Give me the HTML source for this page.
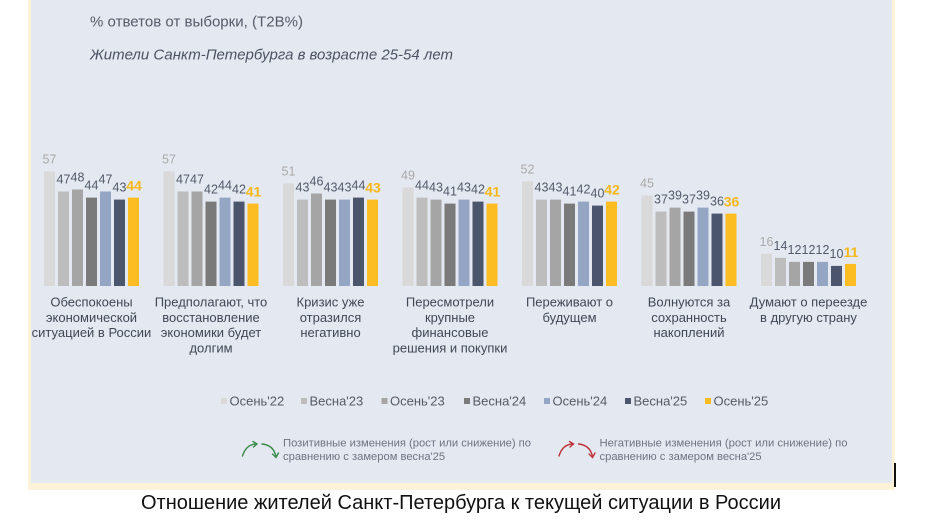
<!DOCTYPE html>
<html><head><meta charset="utf-8"><style>
html,body{margin:0;padding:0;background:#fff;}
svg{display:block;font-family:"Liberation Sans",Arial,sans-serif;}
</style></head><body>
<svg width="930" height="525" viewBox="0 0 930 525" xmlns="http://www.w3.org/2000/svg">
<rect x="0" y="0" width="930" height="525" fill="#ffffff"/>
<rect x="28" y="0" width="867" height="490" fill="#fcf2d8"/>
<rect x="31" y="0" width="861" height="483" fill="#e4e8f0"/>
<rect x="894" y="463" width="2" height="24" fill="#111"/>

<text x="90" y="26.5" font-size="15" fill="#555b68" textLength="213" lengthAdjust="spacingAndGlyphs">% ответов от выборки, (T2B%)</text>
<text x="90" y="59.5" font-size="14.5" font-style="italic" fill="#4b5262" textLength="363" lengthAdjust="spacingAndGlyphs">Жители Санкт-Петербурга в возрасте 25-54 лет</text>

<g font-size="13" fill="#404755" text-anchor="middle">
<text x="91.5" y="306.5"><tspan x="91.5">Обеспокоены</tspan><tspan x="91.5" dy="15.3">экономической</tspan><tspan x="91.5" dy="15.3">ситуацией в России</tspan></text>
<text x="211" y="306.5"><tspan x="211">Предполагают, что</tspan><tspan x="211" dy="15.3">восстановление</tspan><tspan x="211" dy="15.3">экономики будет</tspan><tspan x="211" dy="15.3">долгим</tspan></text>
<text x="330.5" y="306.5"><tspan x="330.5">Кризис уже</tspan><tspan x="330.5" dy="15.3">отразился</tspan><tspan x="330.5" dy="15.3">негативно</tspan></text>
<text x="450" y="306.5"><tspan x="450">Пересмотрели</tspan><tspan x="450" dy="15.3">крупные</tspan><tspan x="450" dy="15.3">финансовые</tspan><tspan x="450" dy="15.3">решения и покупки</tspan></text>
<text x="569.5" y="306.5"><tspan x="569.5">Переживают о</tspan><tspan x="569.5" dy="15.3">будущем</tspan></text>
<text x="689" y="306.5"><tspan x="689">Волнуются за</tspan><tspan x="689" dy="15.3">сохранность</tspan><tspan x="689" dy="15.3">накоплений</tspan></text>
<text x="808.5" y="306.5"><tspan x="808.5">Думают о переезде</tspan><tspan x="808.5" dy="15.3">в другую страну</tspan></text>
</g>

<g font-size="13" fill="#555b66">
<rect x="221" y="398" width="6" height="6" fill="#d9d9d9"/><text x="229.5" y="405.5">Осень'22</text>
<rect x="301" y="398" width="6" height="6" fill="#bdbdbd"/><text x="309.5" y="405.5">Весна'23</text>
<rect x="381.5" y="398" width="6" height="6" fill="#a5a5a5"/><text x="390" y="405.5">Осень'23</text>
<rect x="464" y="398" width="6" height="6" fill="#7a7a7a"/><text x="472.5" y="405.5">Весна'24</text>
<rect x="544" y="398" width="6" height="6" fill="#94a6c4"/><text x="552.5" y="405.5">Осень'24</text>
<rect x="625" y="398" width="6" height="6" fill="#4b556c"/><text x="633.5" y="405.5">Весна'25</text>
<rect x="705" y="398" width="6" height="6" fill="#fbbd21"/><text x="713.5" y="405.5">Осень'25</text>
</g>

<g fill="none" stroke="#3a8a4a" stroke-width="1.4" stroke-linecap="round">
<path d="M242.5,456 Q246,444.5 256,444"/>
<path d="M253,441.5 L257,444 L253.5,447"/>
<path d="M262,444 Q273.5,445 276,456.5"/>
<path d="M272.5,454 L276,457.5 L278.5,453"/>
</g>
<g fill="none" stroke="#c0323a" stroke-width="1.4" stroke-linecap="round" transform="translate(316.5,0)">
<path d="M242.5,456 Q246,444.5 256,444"/>
<path d="M253,441.5 L257,444 L253.5,447"/>
<path d="M262,444 Q273.5,445 276,456.5"/>
<path d="M272.5,454 L276,457.5 L278.5,453"/>
</g>
<g font-size="11.2" fill="#6e7382">
<text x="283" y="446.5" textLength="248" lengthAdjust="spacingAndGlyphs">Позитивные изменения (рост или снижение) по</text>
<text x="283" y="460">сравнению с замером весна'25</text>
<text x="599.5" y="446.5" textLength="248" lengthAdjust="spacingAndGlyphs">Негативные изменения (рост или снижение) по</text>
<text x="599.5" y="460">сравнению с замером весна'25</text>
</g>

<text x="141" y="509" font-size="20" fill="#111" textLength="640" lengthAdjust="spacingAndGlyphs">Отношение жителей Санкт-Петербурга к текущей ситуации в России</text>

<g>
<rect x="44" y="171.4" width="11" height="114.6" fill="#d9d9d9"/>
<rect x="58" y="191.5" width="11" height="94.5" fill="#bdbdbd"/>
<rect x="72" y="189.5" width="11" height="96.5" fill="#a5a5a5"/>
<rect x="86" y="197.6" width="11" height="88.4" fill="#7a7a7a"/>
<rect x="100" y="191.5" width="11" height="94.5" fill="#94a6c4"/>
<rect x="114" y="199.6" width="11" height="86.4" fill="#4b556c"/>
<rect x="128" y="197.6" width="11" height="88.4" fill="#fbbd21"/>
<rect x="163.5" y="171.4" width="11" height="114.6" fill="#d9d9d9"/>
<rect x="177.5" y="191.5" width="11" height="94.5" fill="#bdbdbd"/>
<rect x="191.5" y="191.5" width="11" height="94.5" fill="#a5a5a5"/>
<rect x="205.5" y="201.6" width="11" height="84.4" fill="#7a7a7a"/>
<rect x="219.5" y="197.6" width="11" height="88.4" fill="#94a6c4"/>
<rect x="233.5" y="201.6" width="11" height="84.4" fill="#4b556c"/>
<rect x="247.5" y="203.6" width="11" height="82.4" fill="#fbbd21"/>
<rect x="283" y="183.5" width="11" height="102.5" fill="#d9d9d9"/>
<rect x="297" y="199.6" width="11" height="86.4" fill="#bdbdbd"/>
<rect x="311" y="193.5" width="11" height="92.5" fill="#a5a5a5"/>
<rect x="325" y="199.6" width="11" height="86.4" fill="#7a7a7a"/>
<rect x="339" y="199.6" width="11" height="86.4" fill="#94a6c4"/>
<rect x="353" y="197.6" width="11" height="88.4" fill="#4b556c"/>
<rect x="367" y="199.6" width="11" height="86.4" fill="#fbbd21"/>
<rect x="402.5" y="187.5" width="11" height="98.5" fill="#d9d9d9"/>
<rect x="416.5" y="197.6" width="11" height="88.4" fill="#bdbdbd"/>
<rect x="430.5" y="199.6" width="11" height="86.4" fill="#a5a5a5"/>
<rect x="444.5" y="203.6" width="11" height="82.4" fill="#7a7a7a"/>
<rect x="458.5" y="199.6" width="11" height="86.4" fill="#94a6c4"/>
<rect x="472.5" y="201.6" width="11" height="84.4" fill="#4b556c"/>
<rect x="486.5" y="203.6" width="11" height="82.4" fill="#fbbd21"/>
<rect x="522" y="181.5" width="11" height="104.5" fill="#d9d9d9"/>
<rect x="536" y="199.6" width="11" height="86.4" fill="#bdbdbd"/>
<rect x="550" y="199.6" width="11" height="86.4" fill="#a5a5a5"/>
<rect x="564" y="203.6" width="11" height="82.4" fill="#7a7a7a"/>
<rect x="578" y="201.6" width="11" height="84.4" fill="#94a6c4"/>
<rect x="592" y="205.6" width="11" height="80.4" fill="#4b556c"/>
<rect x="606" y="201.6" width="11" height="84.4" fill="#fbbd21"/>
<rect x="641.5" y="195.5" width="11" height="90.5" fill="#d9d9d9"/>
<rect x="655.5" y="211.6" width="11" height="74.4" fill="#bdbdbd"/>
<rect x="669.5" y="207.6" width="11" height="78.4" fill="#a5a5a5"/>
<rect x="683.5" y="211.6" width="11" height="74.4" fill="#7a7a7a"/>
<rect x="697.5" y="207.6" width="11" height="78.4" fill="#94a6c4"/>
<rect x="711.5" y="213.6" width="11" height="72.4" fill="#4b556c"/>
<rect x="725.5" y="213.6" width="11" height="72.4" fill="#fbbd21"/>
<rect x="761" y="253.8" width="11" height="32.2" fill="#d9d9d9"/>
<rect x="775" y="257.9" width="11" height="28.1" fill="#bdbdbd"/>
<rect x="789" y="261.9" width="11" height="24.1" fill="#a5a5a5"/>
<rect x="803" y="261.9" width="11" height="24.1" fill="#7a7a7a"/>
<rect x="817" y="261.9" width="11" height="24.1" fill="#94a6c4"/>
<rect x="831" y="265.9" width="11" height="20.1" fill="#4b556c"/>
<rect x="845" y="263.9" width="11" height="22.1" fill="#fbbd21"/>
</g>

<g font-size="12.5" text-anchor="middle" fill="#525a6a">
<text x="49.5" y="163.4" fill="#a9a9a9">57</text>
<text x="63.5" y="183.5">47</text>
<text x="77.5" y="181.5">48</text>
<text x="91.5" y="189.6">44</text>
<text x="105.5" y="183.5">47</text>
<text x="119.5" y="191.6">43</text>
<text x="134" y="190.6" font-size="14" font-weight="bold" fill="#f6b818">44</text>
<text x="169" y="163.4" fill="#a9a9a9">57</text>
<text x="183" y="183.5">47</text>
<text x="197" y="183.5">47</text>
<text x="211" y="193.6">42</text>
<text x="225" y="189.6">44</text>
<text x="239" y="193.6">42</text>
<text x="253.5" y="196.6" font-size="14" font-weight="bold" fill="#f6b818">41</text>
<text x="288.5" y="175.5" fill="#a9a9a9">51</text>
<text x="302.5" y="191.6">43</text>
<text x="316.5" y="185.5">46</text>
<text x="330.5" y="191.6">43</text>
<text x="344.5" y="191.6">43</text>
<text x="358.5" y="189.6">44</text>
<text x="373" y="192.6" font-size="14" font-weight="bold" fill="#f6b818">43</text>
<text x="408" y="179.5" fill="#a9a9a9">49</text>
<text x="422" y="189.6">44</text>
<text x="436" y="191.6">43</text>
<text x="450" y="195.6">41</text>
<text x="464" y="191.6">43</text>
<text x="478" y="193.6">42</text>
<text x="492.5" y="196.6" font-size="14" font-weight="bold" fill="#f6b818">41</text>
<text x="527.5" y="173.5" fill="#a9a9a9">52</text>
<text x="541.5" y="191.6">43</text>
<text x="555.5" y="191.6">43</text>
<text x="569.5" y="195.6">41</text>
<text x="583.5" y="193.6">42</text>
<text x="597.5" y="197.6">40</text>
<text x="612" y="194.6" font-size="14" font-weight="bold" fill="#f6b818">42</text>
<text x="647" y="187.5" fill="#a9a9a9">45</text>
<text x="661" y="203.6">37</text>
<text x="675" y="199.6">39</text>
<text x="689" y="203.6">37</text>
<text x="703" y="199.6">39</text>
<text x="717" y="205.6">36</text>
<text x="731.5" y="206.6" font-size="14" font-weight="bold" fill="#f6b818">36</text>
<text x="766.5" y="245.8" fill="#a9a9a9">16</text>
<text x="780.5" y="249.9">14</text>
<text x="794.5" y="253.9">12</text>
<text x="808.5" y="253.9">12</text>
<text x="822.5" y="253.9">12</text>
<text x="836.5" y="257.9">10</text>
<text x="851" y="256.9" font-size="14" font-weight="bold" fill="#f6b818">11</text>
</g>
</svg>
</body></html>
